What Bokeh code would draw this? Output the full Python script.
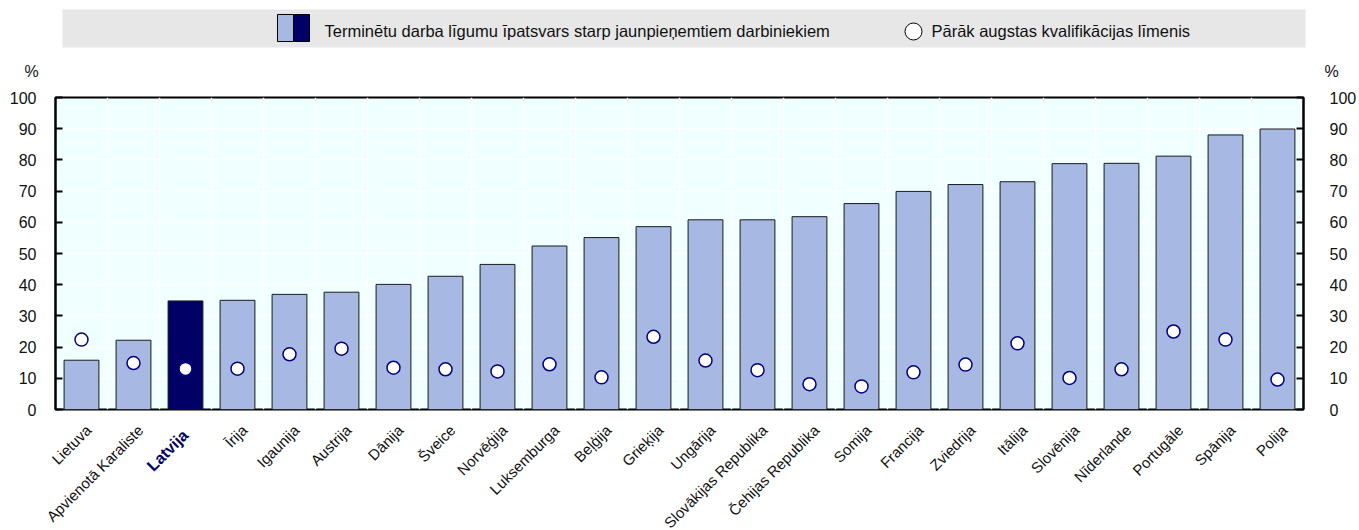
from bokeh.plotting import figure
from bokeh.models import Range1d, LinearAxis, FixedTicker
from bokeh.layouts import column
from bokeh.embed import file_html
from bokeh.resources import INLINE
from bokeh.core.properties import value

countries = ["Lietuva", "Apvienotā Karaliste", "Latvija", "Īrija", "Igaunija", "Austrija",
             "Dānija", "Šveice", "Norvēģija", "Luksemburga", "Beļģija", "Grieķija",
             "Ungārija", "Slovākijas Republika", "Čehijas Republika", "Somija", "Francija",
             "Zviedrija", "Itālija", "Slovēnija", "Nīderlande", "Portugāle", "Spānija", "Polija"]
temp_contracts = [15.8, 22.2, 34.8, 35.0, 36.9, 37.6, 40.1, 42.7, 46.5, 52.4, 55.1, 58.6,
                  60.8, 60.8, 61.8, 66.0, 69.9, 72.1, 73.0, 78.8, 78.9, 81.2, 88.0, 89.9]
overqualified = [22.4, 14.9, 13.0, 13.1, 17.7, 19.5, 13.4, 12.9, 12.2, 14.5, 10.3, 23.3,
                 15.7, 12.6, 8.1, 7.4, 11.9, 14.4, 21.2, 10.1, 12.9, 25.0, 22.4, 9.6]
highlight = "Latvija"
y_ticks = [0, 10, 20, 30, 40, 50, 60, 70, 80, 90, 100]
legend_labels = ["Terminētu darba līgumu īpatsvars starp jaunpieņemtiem darbiniekiem",
                 "Pārāk augstas kvalifikācijas līmenis"]
unit_label = "%"

LIGHT = "#A7B8E2"
DARK = "#000066"
BG = "#F0FFFF"
TXT = "#111111"
FONT = "Liberation Sans"
W = 1359
FRAME_L, FRAME_R = 55, 1303
H_LEG, H_MAIN, H_LAB = 85, 336, 109


def bare(fig):
    fig.grid.visible = False
    fig.outline_line_color = None
    try:
        fig.frame_align = False
    except Exception:
        pass
    return fig


# ---------- legend strip (y measured downward in pixels) ----------
leg = bare(figure(width=W, height=H_LEG, x_range=Range1d(0, W), y_range=Range1d(H_LEG, 0),
                  toolbar_location=None, output_backend="svg", min_border=0,
                  x_axis_type=None, y_axis_type=None))
leg.quad(left=[62], right=[1305], top=[9], bottom=[47], fill_color="#E7E7E7", line_color=None)
leg.quad(left=[277], right=[293], top=[14], bottom=[41], fill_color=LIGHT, line_color="black", line_width=1)
leg.quad(left=[293], right=[309], top=[14], bottom=[41], fill_color=DARK, line_color="black", line_width=1)
leg.text(x=[324], y=[30], text=[legend_labels[0]], text_font=value(FONT), text_font_size="16.5px",
         text_baseline="middle", text_color=TXT)
leg.scatter(x=[913], y=[31], size=17, fill_color="white", line_color="black", line_width=1)
leg.text(x=[931], y=[30], text=[legend_labels[1]], text_font=value(FONT), text_font_size="16.5px",
         text_baseline="middle", text_color=TXT)
leg.text(x=[31, 1331], y=[71, 71], text=[unit_label, unit_label], text_font=value(FONT),
         text_font_size="16px", text_align="center", text_baseline="middle", text_color=TXT)

# ---------- main chart ----------
n = len(countries)
xs = [i + 0.5 for i in range(n)]
colors = [DARK if c == highlight else LIGHT for c in countries]

p = figure(width=W, height=H_MAIN, x_range=Range1d(0, n), y_range=Range1d(0, 100),
           toolbar_location=None, output_backend="svg", x_axis_location=None,
           y_axis_location=None, min_border_left=FRAME_L, min_border_right=W - FRAME_R,
           min_border_top=12, min_border_bottom=12)
p.background_fill_color = BG
p.outline_line_color = "black"
p.outline_line_width = 2

p.xgrid.ticker = FixedTicker(ticks=list(range(1, n)))
p.xgrid.grid_line_color = "white"
p.xgrid.grid_line_width = 1.5
p.ygrid.ticker = FixedTicker(ticks=y_ticks)
p.ygrid.grid_line_color = "white"
p.ygrid.grid_line_width = 1.5

p.vbar(x=xs, top=temp_contracts, width=0.67, fill_color=colors, line_color="#1a1a1a", line_width=1)
p.scatter(x=xs, y=overqualified, size=13, fill_color="white", line_color="#000080", line_width=1.5)

for side in ("left", "right"):
    ax = LinearAxis(ticker=FixedTicker(ticks=y_ticks))
    ax.major_tick_in = 7
    ax.major_tick_out = 0
    ax.minor_tick_line_color = None
    ax.axis_line_width = 2
    ax.major_tick_line_width = 2
    ax.major_label_text_font = FONT
    ax.major_label_text_font_size = "16px"
    ax.major_label_text_color = TXT
    ax.major_label_standoff = 19 if side == "left" else 26
    p.add_layout(ax, side)

# ---------- rotated category labels (same x scale as the chart) ----------
px_per = (FRAME_R - FRAME_L) / n
lab = bare(figure(width=W, height=H_LAB,
                  x_range=Range1d(-FRAME_L / px_per, n + (W - FRAME_R) / px_per),
                  y_range=Range1d(-H_LAB, 0), toolbar_location=None, output_backend="svg",
                  min_border=0, x_axis_type=None, y_axis_type=None))
normal = [c for c in countries if c != highlight]
normal_x = [x for x, c in zip(xs, countries) if c != highlight]
hl_x = [x for x, c in zip(xs, countries) if c == highlight]
lab.text(x=normal_x, y=[-6] * len(normal_x), text=normal, angle=45, angle_units="deg",
         x_offset=7, text_align="right", text_baseline="middle", text_font=value(FONT),
         text_font_size="15px", text_color=TXT)
lab.text(x=hl_x, y=[-11] * len(hl_x), text=[highlight] * len(hl_x), angle=45, angle_units="deg",
         x_offset=0, text_align="right", text_baseline="middle", text_font=value(FONT),
         text_font_size="16px", text_font_style="bold", text_color=DARK)

layout = column(leg, p, lab, spacing=0)
open("out.html", "w").write(file_html(layout, INLINE))
